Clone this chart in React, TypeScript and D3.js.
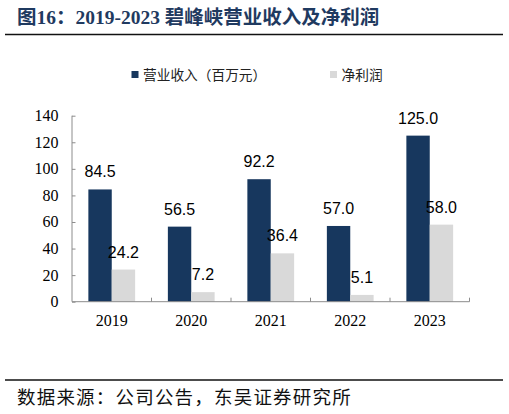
import { useEffect, useRef } from "react"
import * as d3 from "d3"

const years = ["2019", "2020", "2021", "2022", "2023"]
const revenue = [84.5, 56.5, 92.2, 57.0, 125.0]
const netProfit = [24.2, 7.2, 36.4, 5.1, 58.0]
const seriesNames = ["营业收入（百万元）", "净利润"]
const seriesColors = ["#17375e", "#d9d9d9"]
const yTicks = [0, 20, 40, 60, 80, 100, 120, 140]

const titleText = "图16：2019-2023 碧峰峡营业收入及净利润"
const sourceText = "数据来源：公司公告，东吴证券研究所"

const W = 509
const H = 414

export default function App() {
  const svgRef = useRef<SVGSVGElement>(null)

  useEffect(() => {
    if (!svgRef.current) return
    const svg = d3.select(svgRef.current)
    svg.selectAll("*").remove()

    svg.append("rect").attr("width", W).attr("height", H).attr("fill", "#fff")

    // Title
    svg
      .append("text")
      .attr("x", 17)
      .attr("y", 24)
      .attr("font-family", "'Liberation Serif', 'Times New Roman', 'Noto Sans CJK SC'")
      .attr("font-weight", "bold")
      .attr("font-size", 19.5)
      .attr("fill", "#1f3a60")
      .text(titleText)

    svg.append("line").attr("x1", 5).attr("x2", 503).attr("y1", 34.5).attr("y2", 34.5)
      .attr("stroke", "#111").attr("stroke-width", 1.5)
    svg.append("line").attr("x1", 5).attr("x2", 503).attr("y1", 380).attr("y2", 380)
      .attr("stroke", "#111").attr("stroke-width", 1.5)

    svg
      .append("text")
      .attr("x", 17)
      .attr("y", 404)
      .attr("font-family", "'Noto Sans CJK SC'")
      .attr("font-size", 18.5)
      .attr("letter-spacing", 1.2)
      .attr("fill", "#111")
      .text(sourceText)

    // Legend
    const legendX = [131.5, 330]
    seriesNames.forEach((name, i) => {
      svg.append("rect").attr("x", legendX[i]).attr("y", 71).attr("width", 7).attr("height", 7)
        .attr("fill", seriesColors[i])
      svg
        .append("text")
        .attr("x", legendX[i] + 11.5)
        .attr("y", 80)
        .attr("font-family", "'Noto Sans CJK SC'")
        .attr("font-size", 13.7)
        .attr("fill", "#222")
        .text(name)
    })

    // Scales
    const x0 = d3.scaleBand().domain(years).range([72, 469.5]).padding(0)
    const x1 = d3.scaleBand().domain(seriesNames).range([0, x0.bandwidth()]).paddingInner(0).paddingOuter(0.7)
    const y = d3.scaleLinear().domain([0, 140]).range([301.7, 115.7])

    const data = years.map((yr, i) => ({ year: yr, values: [revenue[i], netProfit[i]] }))

    const groups = svg
      .selectAll("g.grp")
      .data(data)
      .enter()
      .append("g")
      .attr("class", "grp")
      .attr("transform", (d) => `translate(${x0(d.year)},0)`)

    groups
      .selectAll("rect")
      .data((d) => d.values.map((v, j) => ({ v, j })))
      .enter()
      .append("rect")
      .attr("x", (d) => x1(seriesNames[d.j])!)
      .attr("y", (d) => y(d.v))
      .attr("width", x1.bandwidth())
      .attr("height", (d) => y(0) - y(d.v))
      .attr("fill", (d) => seriesColors[d.j])

    groups
      .selectAll("text")
      .data((d) => d.values.map((v, j) => ({ v, j })))
      .enter()
      .append("text")
      .attr("x", (d) => x1(seriesNames[d.j])! + x1.bandwidth() / 2)
      .attr("y", (d) => y(d.v) - 12)
      .attr("text-anchor", "middle")
      .attr("font-family", "'Liberation Sans', Arial")
      .attr("font-size", 16)
      .attr("fill", "#000")
      .text((d) => d.v.toFixed(1))

    // Axes
    const axisColor = "#8c8c8c"
    const yAxis = svg.append("g").attr("transform", "translate(72,0)")
      .call(d3.axisRight(y).tickValues(yTicks).tickSize(3.5).tickFormat(() => ""))
    yAxis.select(".domain").attr("stroke", axisColor).attr("d", `M0,${y(140)}V${y(0)}`)
    yAxis.selectAll(".tick line").attr("stroke", axisColor)

    svg
      .append("g")
      .selectAll("text")
      .data(yTicks)
      .enter()
      .append("text")
      .attr("x", 58.5)
      .attr("y", (d) => y(d))
      .attr("dy", "0.34em")
      .attr("text-anchor", "end")
      .attr("font-family", "'Liberation Serif', 'Times New Roman'")
      .attr("font-size", 16)
      .attr("fill", "#000")
      .text((d) => d)

    const xAxis = svg.append("g").attr("transform", `translate(0,${y(0)})`)
      .call(d3.axisTop(x0).tickSize(0).tickFormat(() => ""))
    xAxis.select(".domain").attr("stroke", axisColor).attr("d", `M72,0H469.5`)
    xAxis.selectAll(".tick").remove()

    const boundaries = years.slice(1).map((yr) => x0(yr)!).concat([x0.range()[1]])
    xAxis
      .selectAll("line.b")
      .data(boundaries)
      .enter()
      .append("line")
      .attr("class", "b")
      .attr("x1", (d) => d)
      .attr("x2", (d) => d)
      .attr("y1", 0)
      .attr("y2", -4)
      .attr("stroke", axisColor)

    svg
      .append("g")
      .selectAll("text")
      .data(years)
      .enter()
      .append("text")
      .attr("x", (d) => x0(d)! + x0.bandwidth() / 2)
      .attr("y", 326)
      .attr("text-anchor", "middle")
      .attr("font-family", "'Liberation Serif', 'Times New Roman'")
      .attr("font-size", 16)
      .attr("fill", "#000")
      .text((d) => d)
  }, [])

  return (
    <svg
      ref={svgRef}
      width={W}
      height={H}
      style={{ position: "absolute", left: 0, top: 0, display: "block" }}
    />
  )
}
